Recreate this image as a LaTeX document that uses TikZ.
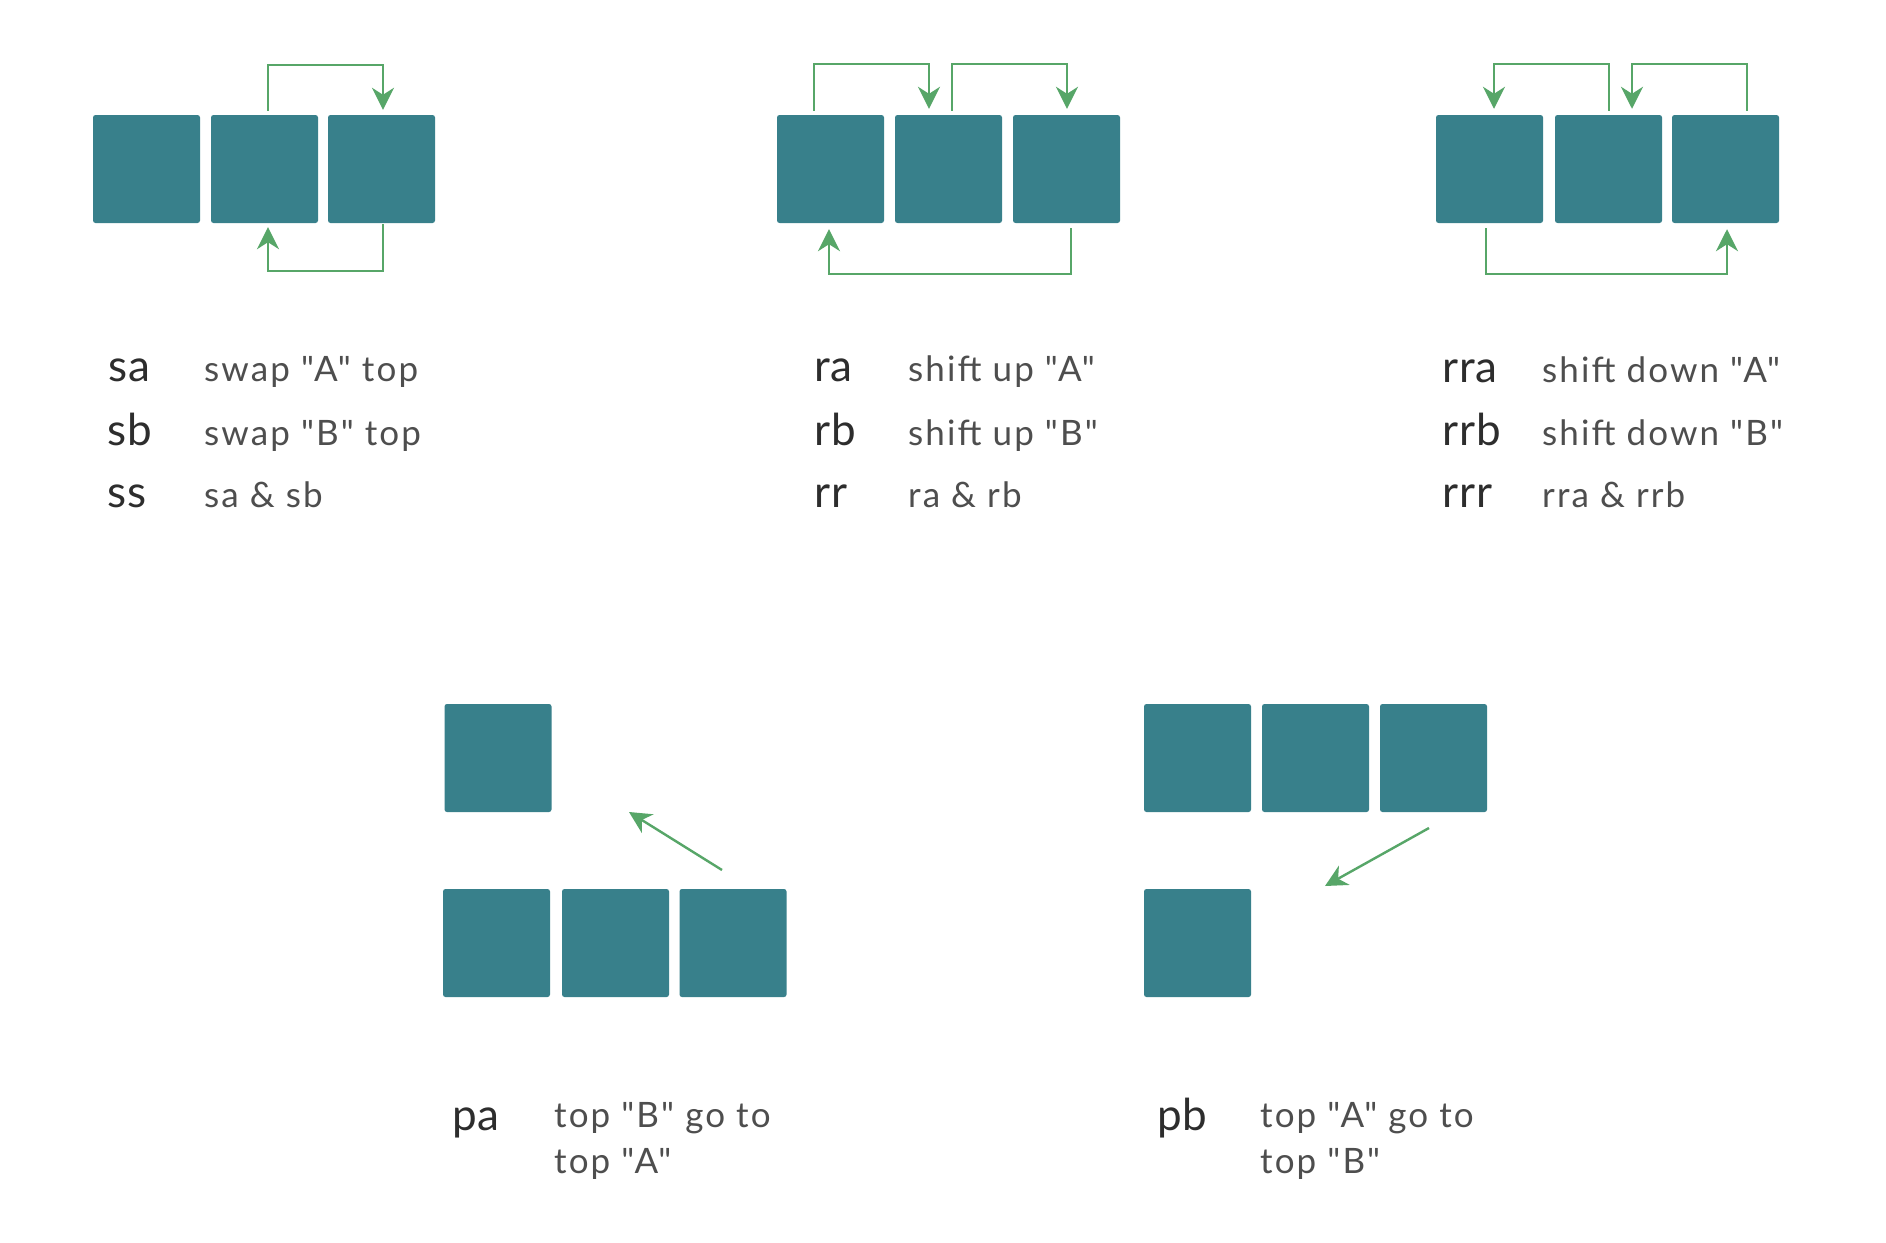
\documentclass[tikz,border=0pt]{standalone}
\usepackage{fontspec}
\setmainfont{Lato}[LetterSpace=6, Ligatures=TeXOff]
\newfontfamily\keyfont{Lato}[LetterSpace=2, Ligatures=TeXOff]
\usetikzlibrary{arrows.meta}
\definecolor{teal}{RGB}{56,128,139}
\definecolor{arrgreen}{RGB}{87,166,104}
\definecolor{keygray}{RGB}{45,45,45}
\definecolor{descgray}{RGB}{78,78,78}
\tikzset{
  box/.style={fill=teal, draw=none, rounded corners=2.5pt, minimum width=107pt, minimum height=108pt, inner sep=0pt},
  arr/.style={draw=arrgreen, line width=2.4pt, -{Stealth[length=22pt,width=22pt,inset=7pt]}},
  keytxt/.style={anchor=base west, inner sep=0pt, text=keygray, font=\keyfont\fontsize{44}{50}\selectfont},
  desctxt/.style={anchor=base west, inner sep=0pt, text=descgray, font=\fontsize{35}{46}\selectfont},
}
\begin{document}
\begin{tikzpicture}[x=1pt,y=-1pt]
\useasboundingbox[fill=white] (0,0) rectangle (1886,1242);
% sa group
\node[box] (a1) at (146.5,169) {};
\node[box] (a2) at (264.5,169) {};
\node[box] (a3) at (381.5,169) {};
\draw[arr] ([shift={(3.5,-4)}]a2.north) -- ++(0,-46) -| ([shift={(1.5,-5)}]a3.north);
\draw[arr] ([shift={(1.5,1)}]a3.south) -- ++(0,47) -| ([shift={(3.5,4)}]a2.south);
% ra group
\node[box] (r1) at (830.5,169) {};
\node[box] (r2) at (948.5,169) {};
\node[box] (r3) at (1066.5,169) {};
\draw[arr] ([shift={(-16.5,-4)}]r1.north) -- ++(0,-47) -| ([shift={(-19.5,-6)}]r2.north);
\draw[arr] ([shift={(3.5,-4)}]r2.north) -- ++(0,-47) -| ([shift={(0.5,-6)}]r3.north);
\draw[arr] ([shift={(4.5,5)}]r3.south) -- ++(0,46) -| ([shift={(-1.5,6)}]r1.south);
% rra group
\node[box] (q1) at (1489.5,169) {};
\node[box] (q2) at (1608.5,169) {};
\node[box] (q3) at (1725.5,169) {};
\draw[arr] ([shift={(0.5,-4)}]q2.north) -- ++(0,-47) -| ([shift={(4.5,-6)}]q1.north);
\draw[arr] ([shift={(21.5,-4)}]q3.north) -- ++(0,-47) -| ([shift={(23.5,-6)}]q2.north);
\draw[arr] ([shift={(-3.5,5)}]q1.south) -- ++(0,46) -| ([shift={(1.5,6)}]q3.south);
% labels row 1
\node[keytxt] (ksa) at (108,381) {sa};
\node[keytxt] (ksb) at (107,445) {sb};
\node[keytxt] (kss) at (107,507) {ss};
\node[desctxt] (dsa) at (204,381) {swap "A" top};
\node[desctxt] (dsb) at (204,445) {swap "B" top};
\node[desctxt] (dss) at (204,507) {sa \& sb};
\node[keytxt] (kra) at (814,381) {ra};
\node[keytxt] (krb) at (814,445) {rb};
\node[keytxt] (krr) at (814,507) {rr};
\node[desctxt] (dra) at (908,381) {shift up "A"};
\node[desctxt] (drb) at (908,445) {shift up "B"};
\node[desctxt] (drr) at (908,507) {ra \& rb};
\node[keytxt] (krra) at (1442,382) {rra};
\node[keytxt] (krrb) at (1442,445) {rrb};
\node[keytxt] (krrr) at (1442,507) {rrr};
\node[desctxt] (drra) at (1542,382) {shift down "A"};
\node[desctxt] (drrb) at (1542,445) {shift down "B"};
\node[desctxt] (drrr) at (1542,507) {rra \& rrb};
% pa group
\node[box] (pt) at (498,758) {};
\node[box] (p1) at (496.5,943) {};
\node[box] (p2) at (615.5,943) {};
\node[box] (p3) at (733,943) {};
\coordinate (pas) at (722,870);
\coordinate (pae) at (629,812);
\draw[arr] (pas) -- (pae);
% pb group
\node[box] (b1) at (1197.5,758) {};
\node[box] (b2) at (1315.5,758) {};
\node[box] (b3) at (1433.5,758) {};
\node[box] (bb) at (1197.5,943) {};
\coordinate (pbs) at (1429,828);
\coordinate (pbe) at (1325,886);
\draw[arr] (pbs) -- (pbe);
% labels row 2
\node[keytxt] (kpa) at (452,1130) {pa};
\node[desctxt] (dpa1) at (554,1127) {top "B" go to};
\node[desctxt] (dpa2) at (554,1173) {top "A"};
\node[keytxt] (kpb) at (1157,1130) {pb};
\node[desctxt] (dpb1) at (1260,1127) {top "A" go to};
\node[desctxt] (dpb2) at (1260,1173) {top "B"};
\end{tikzpicture}
\end{document}
